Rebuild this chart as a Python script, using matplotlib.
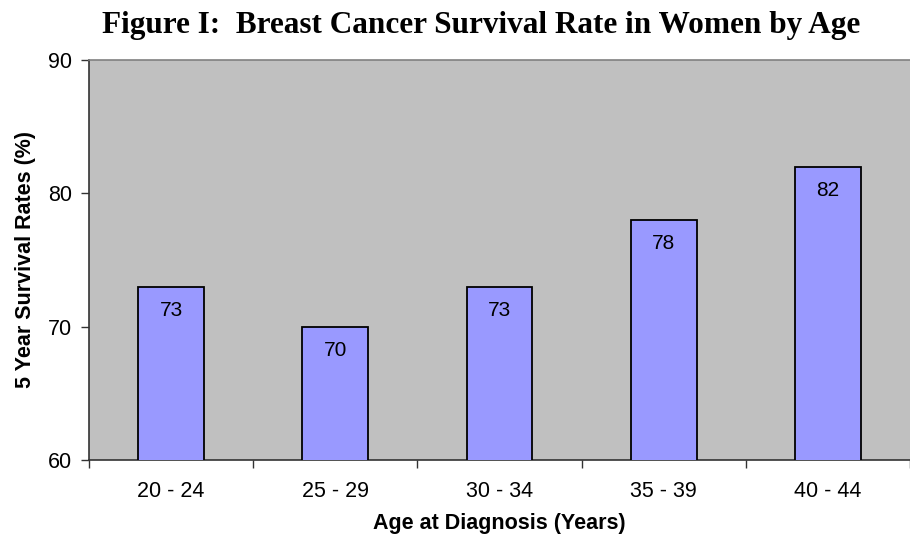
import matplotlib
matplotlib.use("Agg")
import matplotlib.pyplot as plt
import numpy as np

categories = ["20 - 24", "25 - 29", "30 - 34", "35 - 39", "40 - 44"]
values = [73, 70, 73, 78, 82]
yticks = [60, 70, 80, 90]

plt.rcParams['font.family'] = ['Liberation Sans', 'DejaVu Sans']
FS = 15.5

fig = plt.figure(figsize=(9.1, 5.37), dpi=100)
ax = fig.add_axes([89/910, 77/537, (910-89)/910, 400/537])
ax.set_facecolor('#c0c0c0')

x = np.arange(len(categories))
bars = ax.bar(x, values, width=0.4, color='#9999ff', edgecolor='black', linewidth=1.3, zorder=3)
for xi, v in zip(x, values):
    ax.text(xi, v - 1.75, str(v), ha='center', va='center', fontsize=15, color='black', zorder=4)

ax.set_xlim(-0.5, len(categories) - 0.5)
ax.set_ylim(60, 90)
ax.set_yticks(yticks)
ax.set_yticklabels([str(t) for t in yticks], fontsize=FS)
ax.set_xticks(np.arange(-0.5, len(categories), 1.0))
ax.set_xticklabels([])
ax.set_xticks(x, minor=True)
ax.set_xticklabels(categories, minor=True, fontsize=FS)
ax.tick_params(axis='x', which='minor', length=0, pad=15)
ax.tick_params(axis='x', which='major', length=6, width=1, direction='out', color='#333333')
ax.tick_params(axis='y', length=6, width=1, direction='out', color='#333333', pad=6)

for s in ['left', 'bottom']:
    ax.spines[s].set_color('#333333')
    ax.spines[s].set_linewidth(1.2)
ax.spines['top'].set_color('#808080')
ax.spines['top'].set_linewidth(1.2)
ax.spines['right'].set_visible(False)

ax.set_xlabel("Age at Diagnosis (Years)", fontsize=FS, fontweight='bold', labelpad=8)
ax.set_ylabel("5 Year Survival Rates (%)", fontsize=FS, fontweight='bold', labelpad=9)

fig.text(481/910, 1 - 25/537, "Figure I:  Breast Cancer Survival Rate in Women by Age",
         ha='center', va='center', fontsize=22.5, fontweight='bold',
         family=['Liberation Serif', 'DejaVu Serif'])

fig.savefig("out.png", dpi=100)
